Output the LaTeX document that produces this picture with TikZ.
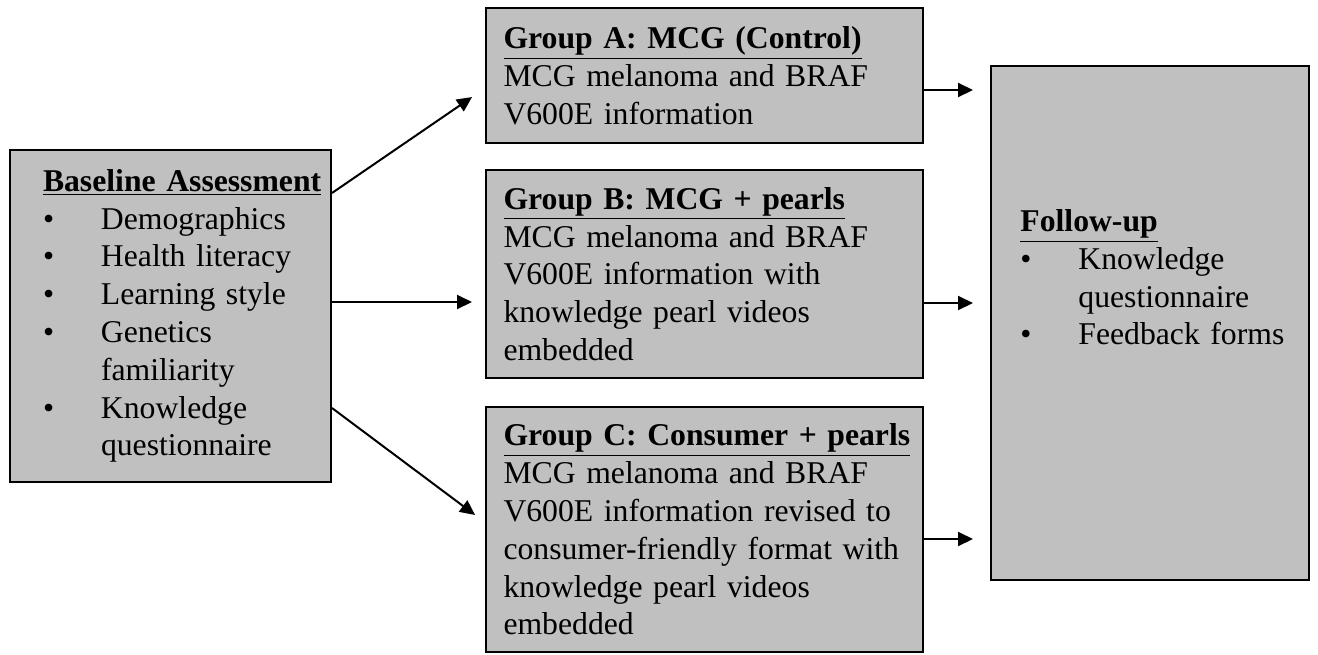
\documentclass[tikz,border=0pt]{standalone}
\usepackage{fontspec}
\setmainfont{Liberation Serif}
\usetikzlibrary{arrows.meta}
\usetikzlibrary{calc}
\definecolor{boxgray}{RGB}{192,192,192}
\tikzset{stagebox/.style={fill=boxgray,draw=black,line width=1pt,align=left,font=\fontsize{15.85}{18.9}\selectfont}}
\newcommand{\itm}[1]{\makebox[29pt][l]{\textbullet}#1}
\newcommand{\cont}{\hspace*{29pt}}
\newcommand{\hd}[1]{\underline{\textbf{#1}}}

\begin{document}
\begin{tikzpicture}[x=0.5pt,y=-0.5pt]
\tikzset{flow/.style={-{Triangle[length=7.5pt,width=7pt]},line width=1pt}}
\tikzset{groupbox/.style={stagebox,inner xsep=8.75pt,text width=201pt,minimum width=218.5pt}}
\useasboundingbox (0,0) rectangle (1318,654);
% baseline
\node[stagebox,inner xsep=16.5pt,text width=127.5pt,minimum height=166pt] (base) at (170.5,316)
  {\hd{Baseline Assessment}\\
   \itm{Demographics}\\
   \itm{Health literacy}\\
   \itm{Learning style}\\
   \itm{Genetics}\\
   \cont familiarity\\
   \itm{Knowledge}\\
   \cont questionnaire};
% three arms
\node[groupbox,minimum height=67.5pt] (grpA) at (704.5,75.5)
  {\hd{Group A: MCG (Control)}\\
   MCG melanoma and BRAF\\
   V600E information};
\node[groupbox,minimum height=104pt] (grpB) at (704.5,274)
  {\hd{Group B: MCG + pearls}\\
   MCG melanoma and BRAF\\
   V600E information with\\
   knowledge pearl videos\\
   embedded};
\node[groupbox,minimum height=122.5pt] (grpC) at (704.5,529.5)
  {\hd{Group C: Consumer + pearls}\\
   MCG melanoma and BRAF\\
   V600E information revised to\\
   consumer-friendly format with\\
   knowledge pearl videos\\
   embedded};
% follow-up
\node[stagebox,minimum width=159pt,minimum height=257pt] (follow) at (1150,323) {};
\node[align=left,anchor=north west,inner sep=0pt,text width=140pt,font=\fontsize{15.85}{18.9}\selectfont] (followtxt)
  at ([xshift=15pt,yshift=-72pt]follow.north west)
  {\hd{Follow-up}\\
   \itm{Knowledge}\\
   \cont questionnaire\\
   \itm{Feedback forms}};
% arrows
\draw[flow,shorten >=7.85pt] ([yshift=61.5pt]base.east) -- ([yshift=-6.35pt]grpA.west);
\draw[flow,shorten >=6.5pt] ([yshift=7pt]base.east) -- ([yshift=-14pt]grpB.west);
\draw[flow,shorten >=6.2pt] ([yshift=-46pt]base.east) -- ([yshift=3.55pt]grpC.west);
\draw[flow,shorten >=8.5pt] ([yshift=-7.25pt]grpA.east) -- ([yshift=116.5pt]follow.west);
\draw[flow,shorten >=8.5pt] ([yshift=-14.5pt]grpB.east) -- ([yshift=10pt]follow.west);
\draw[flow,shorten >=8.5pt] ([yshift=-4.75pt]grpC.east) -- ([yshift=-108pt]follow.west);
\end{tikzpicture}
\end{document}
